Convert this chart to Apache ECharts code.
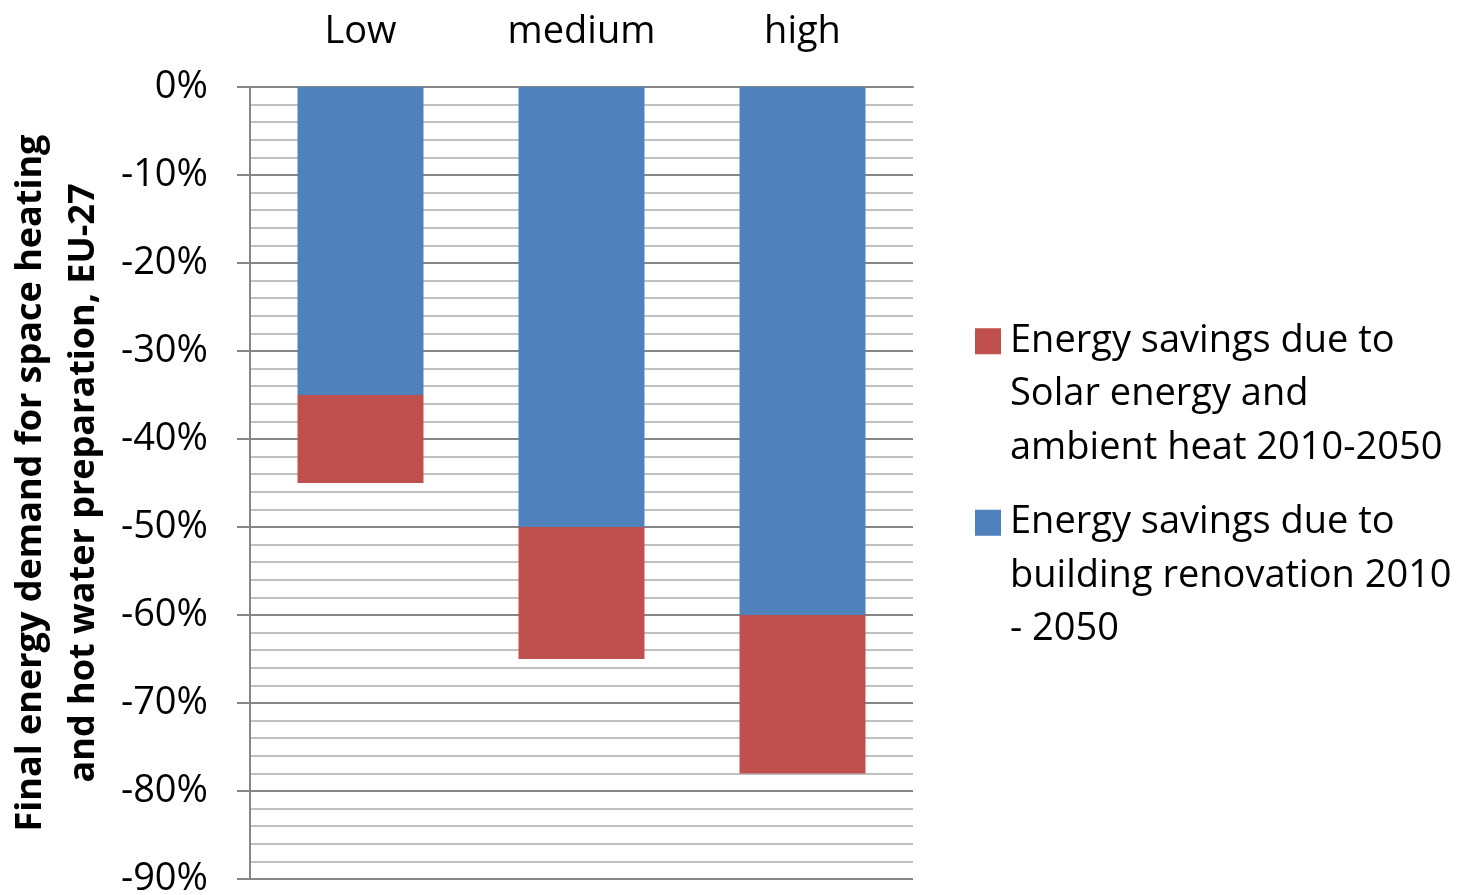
<!DOCTYPE html>
<html>
<head>
<meta charset="utf-8">
<script src="https://cdn.jsdelivr.net/npm/echarts@6/dist/echarts.min.js"></script>
<style>
  html, body { margin: 0; padding: 0; background: #fff; }
  #chart { width: 1463px; height: 895px; }
</style>
</head>
<body>
<div id="chart"></div>
<script>
const categories = ['Low', 'medium', 'high'];
const renovation = [-35, -50, -60];
const solar = [-10, -15, -18];
const solarName = 'Energy savings due to\nSolar energy and\nambient heat 2010-2050';
const renovationName = 'Energy savings due to\nbuilding renovation 2010\n- 2050';

const font = 'Open Sans';
// square icon drawn at top of a tall box, so it lines up with the first text line
const icon = 'path://M0,0M0,14h26v26h-26ZM26,160';

const chart = echarts.init(document.getElementById('chart'));
chart.setOption({
  animation: false,
  grid: { left: 250, right: 550, top: 87, bottom: 16, outerBoundsMode: 'none' },
  legend: {
    orient: 'vertical',
    left: 975,
    top: 314,
    padding: 0,
    itemWidth: 26,
    itemHeight: 160,
    itemGap: 21,
    icon: icon,
    data: [solarName, renovationName],
    textStyle: { fontFamily: font, fontSize: 38, color: '#000', lineHeight: 53.5, padding: [0, 0, 0, 4] }
  },
  xAxis: {
    type: 'category',
    position: 'top',
    data: categories,
    axisLine: { lineStyle: { color: '#868686', width: 2 } },
    axisTick: { show: false },
    axisLabel: { fontFamily: font, fontSize: 38, color: '#000', margin: 36 }
  },
  yAxis: {
    type: 'value',
    min: -90,
    max: 0,
    interval: 10,
    name: 'Final energy demand for space heating\nand hot water preparation, EU-27',
    nameLocation: 'middle',
    nameRotate: 90,
    nameGap: 140,
    nameTextStyle: { fontFamily: font, fontSize: 36, fontWeight: 'bold', color: '#000', lineHeight: 53 },
    axisLine: { show: true, lineStyle: { color: '#868686', width: 2 } },
    axisTick: { show: true, length: 13, lineStyle: { color: '#868686', width: 2 } },
    axisLabel: { fontFamily: font, fontSize: 38, color: '#000', margin: 42, formatter: '{value}%' },
    splitLine: { lineStyle: { color: '#868686', width: 2 } },
    minorTick: { show: false, splitNumber: 5 },
    minorSplitLine: { show: true, lineStyle: { color: '#c0c0c0', width: 2 } }
  },
  series: [
    {
      name: renovationName,
      type: 'bar',
      stack: 'total',
      barWidth: '57%',
      data: renovation,
      itemStyle: { color: '#4f81bd' }
    },
    {
      name: solarName,
      type: 'bar',
      stack: 'total',
      barWidth: '57%',
      data: solar,
      itemStyle: { color: '#c0504d' }
    }
  ]
});
</script>
</body>
</html>
